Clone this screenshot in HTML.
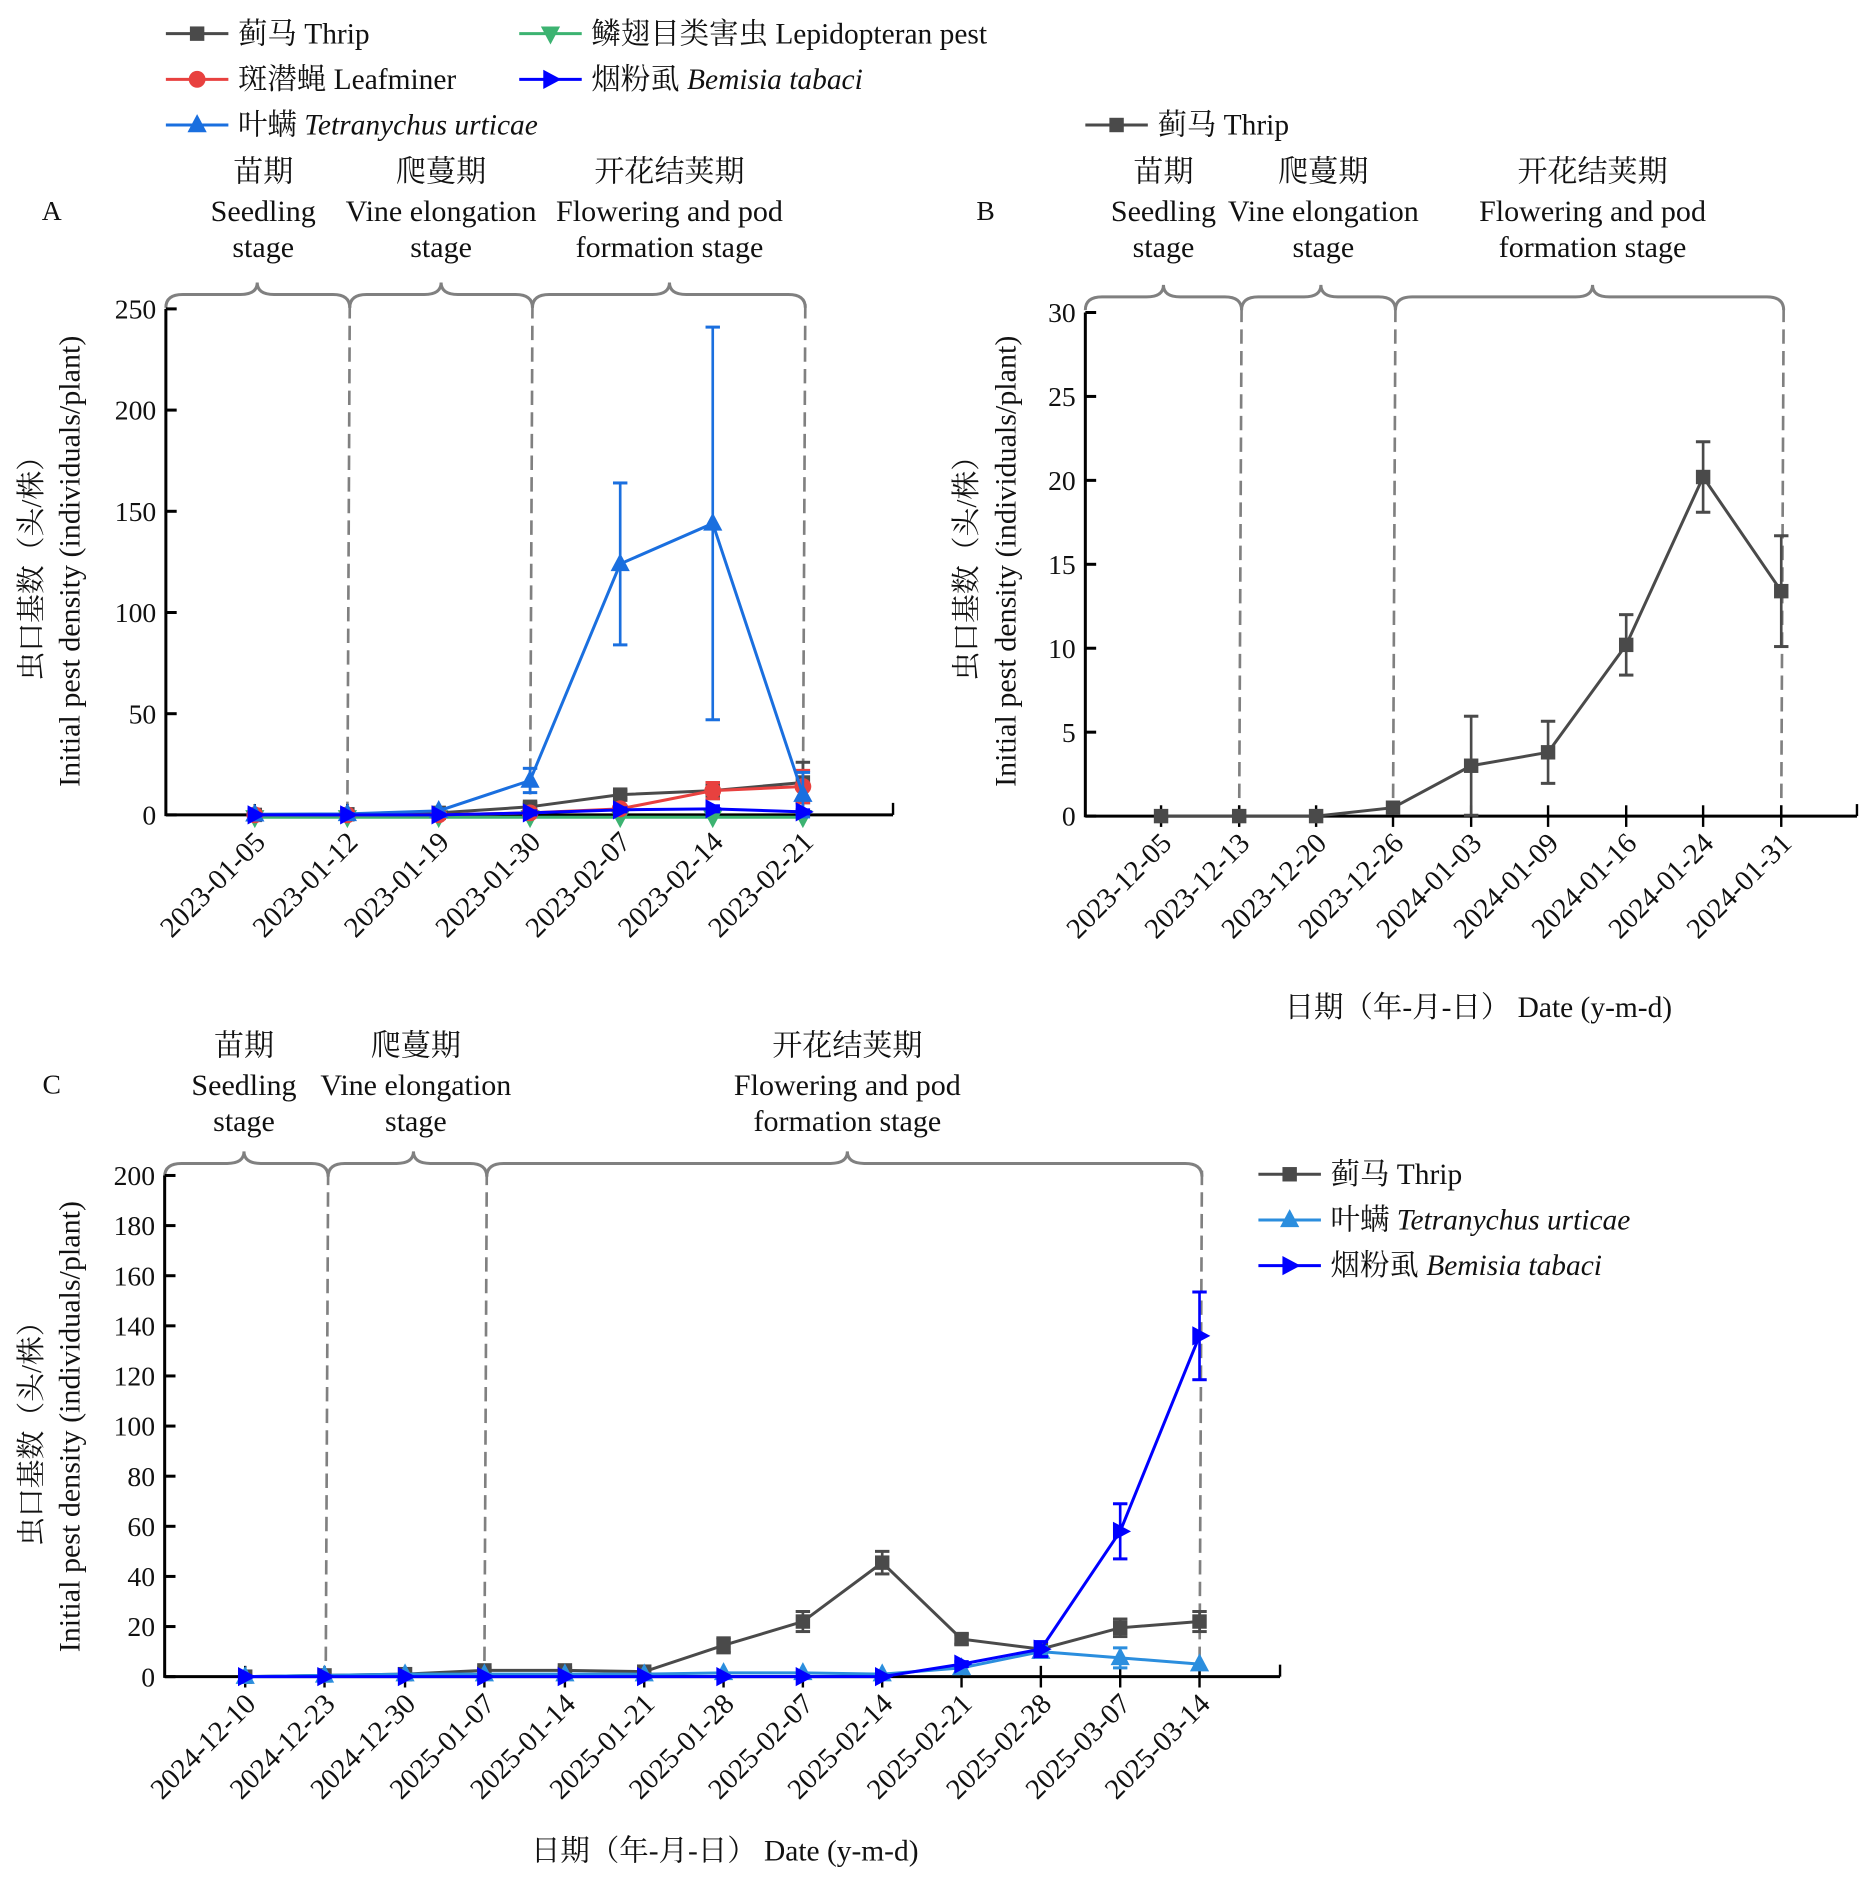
<!DOCTYPE html>
<html><head><meta charset="utf-8">
<style>
html,body{margin:0;padding:0;background:#fff;}
svg{display:block;}
text{font-family:"Liberation Serif","Noto Serif CJK SC",serif;fill:#111;}
</style></head>
<body>
<svg id="s" width="1875" height="1884" viewBox="0 0 1560 1567.5" xmlns="http://www.w3.org/2000/svg"></svg>
<script>
const S=document.getElementById('s');let h='';
function add(x){h+=x;}
const GR='#4a4a4a',RD='#e8413f',GN='#3cb371',BL='#1a6fdf',BB='#0000ff',LB='#2b8ede';
function marker(t,x,y,c){
 if(t=='sq')return `<rect x="${x-6}" y="${y-6}" width="12" height="12" fill="${c}"/>`;
 if(t=='ci')return `<circle cx="${x}" cy="${y}" r="7" fill="${c}"/>`;
 if(t=='tu')return `<polygon points="${x-8},${y+6} ${x+8},${y+6} ${x},${y-9}" fill="${c}"/>`;
 if(t=='td')return `<polygon points="${x-8},${y-6} ${x+8},${y-6} ${x},${y+9}" fill="${c}"/>`;
 if(t=='tr')return `<polygon points="${x-6},${y-8} ${x-6},${y+8} ${x+9},${y}" fill="${c}"/>`;
}
function brace(x1,x2,c,y0){const e=y0+11,p=y0-10;
 return `<path d="M${x1},${e} Q${x1},${y0} ${x1+14},${y0} L${c-14},${y0} Q${c},${y0} ${c},${p} Q${c},${y0} ${c+14},${y0} L${x2-14},${y0} Q${x2},${y0} ${x2},${e}" fill="none" stroke="#808080" stroke-width="2.5"/>`;}
function txt(x,y,s,a='middle',sz=25,extra=''){return `<text x="${x}" y="${y}" font-size="${sz}" text-anchor="${a}" ${extra}>${s}</text>`;}
function panel(P){
 const yv=v=>P.y0-(v/P.ymax)*(P.y0-P.ytop);
 P.dash.forEach(x=>add(`<line x1="${x}" y1="${P.ytop-4}" x2="${x-2}" y2="${P.y0}" stroke="#808080" stroke-width="2.2" stroke-dasharray="12,6"/>`));
 P.braces.forEach(b=>add(brace(b[0],b[1],b[2],P.by)));
 add(`<line x1="${P.ax}" y1="${P.ytop}" x2="${P.ax}" y2="${P.y0+1}" stroke="#000" stroke-width="2.5"/>`);
 add(`<line x1="${P.ax}" y1="${P.y0}" x2="${P.xend}" y2="${P.y0}" stroke="#000" stroke-width="2.5"/>`);
 add(`<line x1="${P.xend}" y1="${P.y0}" x2="${P.xend}" y2="${P.y0-10}" stroke="#000" stroke-width="2"/>`);
 for(let v=0;v<=P.ymax;v+=P.ystep){const y=yv(v);
  add(`<line x1="${P.ax}" y1="${y}" x2="${P.ax+9}" y2="${y}" stroke="#000" stroke-width="2.5"/>`);
  add(txt(P.ax-8,y+8,v,'end',23));}
 P.xs.forEach((x,i)=>{add(`<line x1="${x}" y1="${P.y0-9}" x2="${x}" y2="${P.y0+9}" stroke="#000" stroke-width="2"/>`);
  add(`<text x="${x+10}" y="${P.y0+24}" font-size="24" text-anchor="end" transform="rotate(-45 ${x+10} ${P.y0+24})">${P.dates[i]}</text>`);});
 P.series.forEach(s=>{
  let pts=s.v.map((v,i)=>`${P.xs[i]},${yv(v)+(s.off||0)}`).join(' ');
  add(`<polyline points="${pts}" fill="none" stroke="${s.c}" stroke-width="2.5"/>`);
  (s.e||[]).forEach((e,i)=>{if(!e)return;const x=P.xs[i];const a=yv(s.v[i]+e),b=yv(Math.max(s.v[i]-e,-2));
   add(`<line x1="${x}" y1="${a}" x2="${x}" y2="${b}" stroke="${s.c}" stroke-width="2.2"/><line x1="${x-6}" y1="${a}" x2="${x+6}" y2="${a}" stroke="${s.c}" stroke-width="2.5"/><line x1="${x-6}" y1="${b}" x2="${x+6}" y2="${b}" stroke="${s.c}" stroke-width="2.5"/>`);});
  s.v.forEach((v,i)=>add(marker(s.m,P.xs[i],yv(v)+(s.off||0),s.c)));
 });
 const cy=P.ylc;
 add(`<text transform="translate(${P.ylx1},${cy}) rotate(-90)" font-size="24" text-anchor="middle">虫口基数（头/株）</text>`);
 add(`<text transform="translate(${P.ylx2},${cy}) rotate(-90)" font-size="25" text-anchor="middle">Initial pest density (individuals/plant)</text>`);
 P.st.forEach(s=>{add(txt(s[0],P.sty,s[1]));add(txt(s[0],P.sty+33,s[2]));add(txt(s[0],P.sty+63,s[3]));});
 add(txt(P.lab[0],P.lab[1],P.lab[2],'middle',23));
}
function leg(x,y,m,c,label){add(`<line x1="${x}" y1="${y}" x2="${x+52}" y2="${y}" stroke="${c}" stroke-width="2.5"/>`+marker(m,x+26,y,c)+`<text x="${x+60}" y="${y+8}" font-size="24.5">${label}</text>`);}
panel({ax:138,ytop:257,y0:678,ymax:250,ystep:50,xend:743,by:245,
 xs:[212,289,365,441,516,593,668],dates:['2023-01-05','2023-01-12','2023-01-19','2023-01-30','2023-02-07','2023-02-14','2023-02-21'],
 dash:[291,443,670],braces:[[138,291,214],[291,443,367],[443,670,557]],
 series:[
  {m:'td',c:GN,v:[0,0,0,0,0,0,0],off:2},
  {m:'sq',c:GR,v:[0,0.3,1,4,10,12,16],e:[0,0,1,2,2,4,10]},
  {m:'ci',c:RD,v:[0,0,0,1,3,12,14],e:[0,0,0,1,1,4,8]},
  {m:'tu',c:BL,v:[0.3,0.5,2,17,124,144,10],e:[0,0,1,6,40,97,11]},
  {m:'tr',c:BB,v:[0,0,0,1,2.5,3,1.5],e:[0,0,0,1,1,1.5,1]}],
 ylc:467,ylx1:34,ylx2:66,sty:151,
 st:[[219,'苗期','Seedling','stage'],[367,'爬蔓期','Vine elongation','stage'],[557,'开花结荚期','Flowering and pod','formation stage']],
 lab:[43,183,'A']});
panel({ax:903,ytop:260,y0:679,ymax:30,ystep:5,xend:1545,by:247,
 xs:[966,1031,1095,1159,1224,1288,1353,1417,1482],dates:['2023-12-05','2023-12-13','2023-12-20','2023-12-26','2024-01-03','2024-01-09','2024-01-16','2024-01-24','2024-01-31'],
 dash:[1033,1161,1484],braces:[[903,1033,968],[1033,1161,1099],[1161,1484,1325]],
 series:[{m:'sq',c:GR,v:[0,0,0,0.5,3,3.8,10.2,20.2,13.4],e:[0,0,0,0,2.95,1.85,1.8,2.1,3.3]}],
 ylc:467,ylx1:812,ylx2:845,sty:151,
 st:[[968,'苗期','Seedling','stage'],[1101,'爬蔓期','Vine elongation','stage'],[1325,'开花结荚期','Flowering and pod','formation stage']],
 lab:[820,183,'B']});
panel({ax:137,ytop:978,y0:1395,ymax:200,ystep:20,xend:1065,by:968,
 xs:[204,270,337,403,470,536,602,668,734,800,866,932,998],
 dates:['2024-12-10','2024-12-23','2024-12-30','2025-01-07','2025-01-14','2025-01-21','2025-01-28','2025-02-07','2025-02-14','2025-02-21','2025-02-28','2025-03-07','2025-03-14'],
 dash:[273,405,1000],braces:[[137,273,203],[273,405,344],[405,1000,705]],
 series:[
  {m:'sq',c:GR,v:[0,0.5,1,2.5,2.5,2,12.5,22,45.5,15,11,19.5,22],e:[0,0,0,1,1,1,3,4,4.5,2,0,3.5,4]},
  {m:'tu',c:LB,v:[0,0.5,1,1,1,1,1.5,1.5,1,3.5,10,7.5,5],e:[0,0,0,0,0,0,0,0,0,0,2,4,0]},
  {m:'tr',c:BB,v:[0,0,0,0,0,0,0,0,0,5,11,58,136],e:[0,0,0,0,0,0,0,0,0,1,3,11,17.5]}],
 ylc:1187,ylx1:34,ylx2:66,sty:878,
 st:[[203,'苗期','Seedling','stage'],[346,'爬蔓期','Vine elongation','stage'],[705,'开花结荚期','Flowering and pod','formation stage']],
 lab:[43,910,'C']});
leg(138,28,'sq',GR,'蓟马 Thrip');
leg(138,66,'ci',RD,'斑潜蝇 Leafminer');
leg(138,104,'tu',BL,'叶螨 <tspan font-style="italic">Tetranychus urticae</tspan>');
leg(432,28,'td',GN,'鳞翅目类害虫 Lepidopteran pest');
leg(432,66,'tr',BB,'烟粉虱 <tspan font-style="italic">Bemisia tabaci</tspan>');
leg(903,104,'sq',GR,'蓟马 Thrip');
leg(1047,977,'sq',GR,'蓟马 Thrip');
leg(1047,1015,'tu',LB,'叶螨 <tspan font-style="italic">Tetranychus urticae</tspan>');
leg(1047,1053,'tr',BB,'烟粉虱 <tspan font-style="italic">Bemisia tabaci</tspan>');
add(txt(1230,846,'日期（年-月-日） Date (y-m-d)','middle',24.5));
add(txt(603,1548,'日期（年-月-日） Date (y-m-d)','middle',24.5));
S.innerHTML=h;
</script>
</body></html>
